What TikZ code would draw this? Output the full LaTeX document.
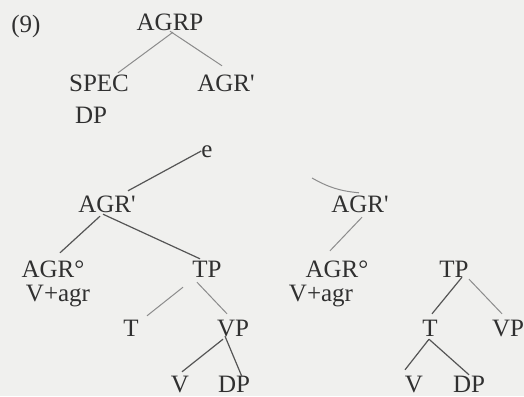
\documentclass[tikz,border=0pt]{standalone}
\usepackage{fontspec}
\setmainfont{Liberation Serif}
\usepackage{xcolor}
\usetikzlibrary{positioning}
\definecolor{paper}{HTML}{F0F0EE}
\definecolor{ink}{HTML}{303030}
\definecolor{stem}{HTML}{555555}
\definecolor{stemfaint}{HTML}{8C8C8C}

\tikzset{
  cat/.style={anchor=base, inner sep=0pt, text height=16pt, text depth=0pt,
    text=ink, font=\fontsize{25}{28}\selectfont},
  branch/.style={draw=stem, line width=1.2pt},
  faintbranch/.style={draw=stemfaint, line width=1pt}
}

\begin{document}
\begin{tikzpicture}[x=1pt, y=-1pt]
  \fill[paper] (0,0) rectangle (524,396);
  \useasboundingbox (0,0) rectangle (524,396);

  % upper tree
  \node[cat] (ex) at (26,33) {(9)};
  \node[cat] (agrp) at (170,31) {AGRP};
  \node[cat] (spec) at (99,91) {SPEC};
  \node[cat] (specdp) at (91,123) {DP};
  \node[cat] (agrbar) at (226,91) {AGR\textquotesingle};
  \node[cat] (e) at (207,157) {e};

  % left lower tree
  \node[cat] (agrbarL) at (107,212) {AGR\textquotesingle};
  \node[cat] (agrL) at (53,277) {AGR°};
  \node[cat] (vagrL) at (58,301) {V+agr};
  \node[cat] (tpL) at (207,277) {TP};
  \node[cat] (tL) at (131,336) {T};
  \node[cat] (vpL) at (233,336) {VP};
  \node[cat] (vL) at (180,392) {V};
  \node[cat] (dpL) at (234,392) {DP};

  % right lower tree
  \coordinate (cut) at (312,178);
  \node[cat] (agrbarR) at (360,212) {AGR\textquotesingle};
  \node[cat] (agrR) at (337,277) {AGR°};
  \node[cat] (vagrR) at (321,301) {V+agr};
  \node[cat] (tpR) at (454,277) {TP};
  \node[cat] (tR) at (430,336) {T};
  \node[cat] (vpR) at (508,336) {VP};
  \node[cat] (vR) at (414,392) {V};
  \node[cat] (dpR) at (469,392) {DP};

  % branches
  \draw[faintbranch] ([xshift=3pt,yshift=-1pt]agrp.south) -- ([xshift=19pt,yshift=2pt]spec.north);
  \draw[faintbranch] (agrp.south) -- ([xshift=-4pt,yshift=9pt]agrbar.north);
  \draw[branch] ([yshift=-2pt]e.west) -- ([xshift=21pt,yshift=5pt]agrbarL.north);
  \draw[branch] ([xshift=-7pt,yshift=-4pt]agrbarL.south) -- ([xshift=7pt,yshift=8pt]agrL.north);
  \draw[branch] ([xshift=-4pt,yshift=-2pt]agrbarL.south) -- ([xshift=-7pt,yshift=2pt]tpL.north);
  \draw[faintbranch] ([xshift=-24pt,yshift=-10pt]tpL.south) -- ([xshift=16pt,yshift=4pt]tL.north);
  \draw[faintbranch] ([xshift=-10pt,yshift=-5pt]tpL.south) -- ([xshift=-6pt,yshift=6pt]vpL.north);
  \draw[branch] ([xshift=-10pt,yshift=-3pt]vpL.south) -- ([xshift=2pt,yshift=4pt]vL.north);
  \draw[branch] ([xshift=-8pt]vpL.south) -- ([xshift=8pt,yshift=-1pt]dpL.north);

  \draw[faintbranch] ([xshift=-1pt,yshift=3pt]agrbarR.north) to[bend left=12] (cut);
  \draw[faintbranch] ([xshift=2pt,yshift=-5pt]agrbarR.south) -- ([xshift=-7pt,yshift=10pt]agrR.north);
  \draw[branch] ([xshift=8pt]tpR.south) -- ([xshift=2pt,yshift=6pt]tR.north);
  \draw[faintbranch] ([xshift=15pt,yshift=-2pt]tpR.south) -- ([xshift=-6pt,yshift=6pt]vpR.north);
  \draw[branch] ([xshift=-1pt,yshift=-3pt]tR.south) -- ([xshift=-9pt,yshift=6pt]vR.north);
  \draw[branch] ([xshift=-1pt,yshift=-3pt]tR.south) -- ([yshift=1pt]dpR.north);
\end{tikzpicture}
\end{document}
